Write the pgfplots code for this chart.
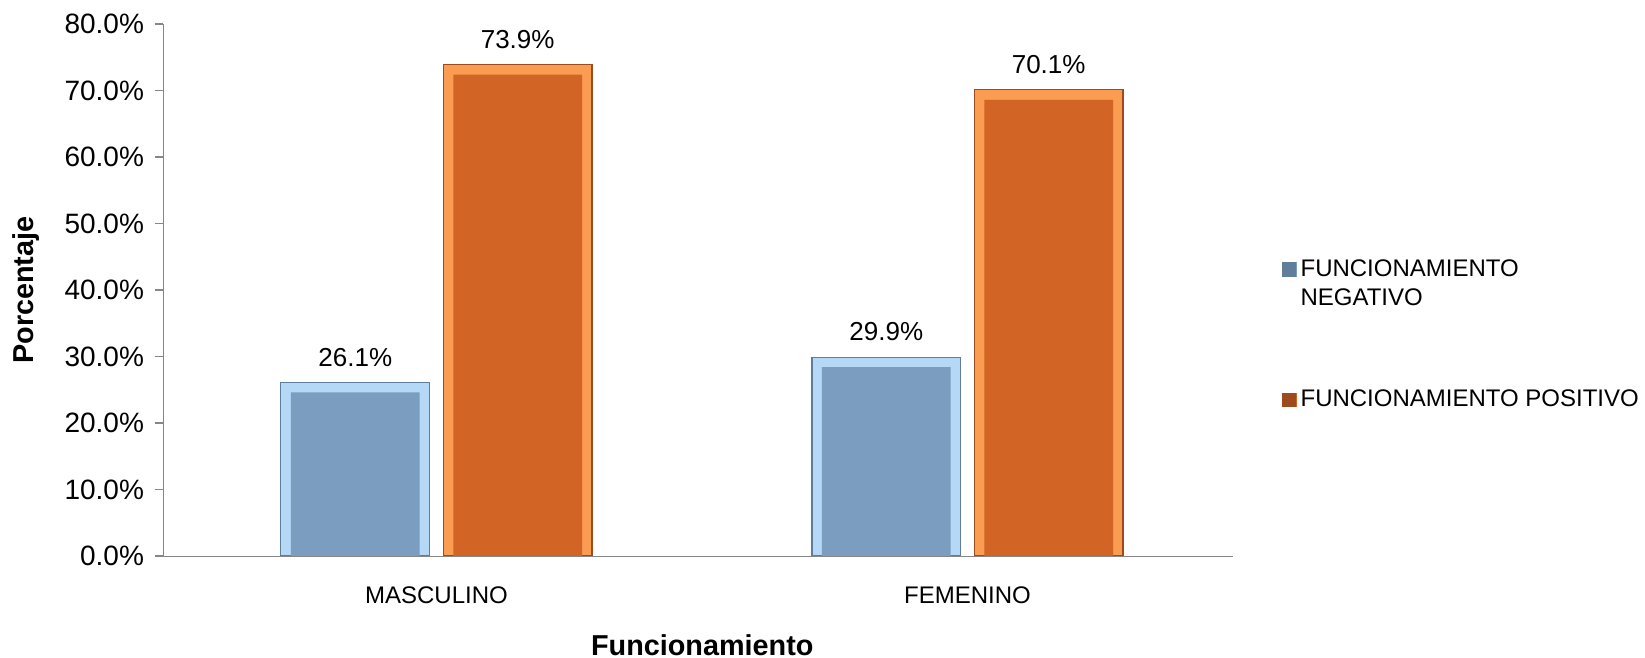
\documentclass[border=0pt]{standalone}
\usepackage{pgfplots}
\pgfplotsset{compat=1.18}
\usepackage{fontspec}
\setmainfont{Liberation Sans}

\definecolor{bluemain}{HTML}{7A9DC0}
\definecolor{bluelight}{HTML}{B4D8F6}
\definecolor{blueedge}{HTML}{5F7E9C}
\definecolor{orgmain}{HTML}{D26426}
\definecolor{orglight}{HTML}{FA9C52}
\definecolor{orgedge}{HTML}{9C4B1E}
\definecolor{axisgray}{HTML}{868686}

\pgfplotsset{
  outerbar/.style={ybar, bar width=0.28, line width=0.6pt},
  innerbar/.style={ybar, bar width=0.2426, draw=none, yshift=-5pt, forget plot,
    nodes near coords={\pgfmathprintnumber[fixed,fixed zerofill,precision=1]{\pgfplotspointmeta}\%},
    every node near coord/.append style={font=\fontsize{13}{15}\selectfont, text=black, yshift=9.5pt}},
}

\begin{document}
\begin{tikzpicture}
\begin{axis}[
  name=ax, at={(0,0)}, anchor=south west,
  width=535pt, height=266pt, scale only axis,
  xmin=-0.515, xmax=1.5, ymin=0, ymax=80,
  xtick={0,1}, xticklabels={MASCULINO,FEMENINO},
  ytick distance=10,
  axis lines=left, axis line style={draw=axisgray, -},
  xtick style={draw=none},
  ytick style={draw=axisgray, line width=0.6pt},
  major tick length=4pt, tick align=outside,
  yticklabel={\pgfmathprintnumber[fixed,fixed zerofill,precision=1]{\tick}\%},
  /pgf/number format/assume math mode=true,
  yticklabel style={font=\fontsize{14}{16}\selectfont, xshift=-2pt},
  xticklabel style={font=\fontsize{12}{14}\selectfont, yshift=-8pt},
  ylabel={\textbf{Porcentaje}},
  ylabel style={font=\fontsize{14.4}{17}\selectfont, at={(axis description cs:-0.128,0.5)}, anchor=center},
  xlabel={\textbf{Funcionamiento}},
  xlabel style={font=\fontsize{14.4}{17}\selectfont, at={(axis description cs:0.504,-0.167)}, anchor=center},
  clip mode=global,
  legend cell align=left,
  legend style={at={(1.04,0.416)}, anchor=west, draw=none, fill=none,
    font=\fontsize{12}{14.4}\selectfont, row sep=37pt,
    nodes={align=left}},
]
% outer (bevel) bars
\addplot[outerbar, bar shift=-0.153, fill=bluelight, draw=blueedge,
  legend image code/.code={\fill[bluemain] (0pt,3.9pt) rectangle (6.6pt,10.5pt);
    \draw[blueedge, line width=0.5pt] (0pt,3.9pt) rectangle (6.6pt,10.5pt);}]
  coordinates {(0,26.1) (1,29.9)};
\addlegendentry{FUNCIONAMIENTO\\NEGATIVO}
\addplot[outerbar, bar shift=0.153, fill=orglight, draw=orgedge,
  legend image code/.code={\fill[orgmain] (0pt,-3.3pt) rectangle (6.6pt,3.3pt);
    \draw[orgedge, line width=0.5pt] (0pt,-3.3pt) rectangle (6.6pt,3.3pt);}]
  coordinates {(0,73.9) (1,70.1)};
\addlegendentry{FUNCIONAMIENTO POSITIVO}
% inner faces with value labels
\addplot[innerbar, bar shift=-0.153, fill=bluemain,
  every node near coord/.append style={xshift=-40.6pt}]
  coordinates {(0,26.1) (1,29.9)};
\addplot[innerbar, bar shift=0.153, fill=orgmain,
  every node near coord/.append style={xshift=40.6pt}]
  coordinates {(0,73.9) (1,70.1)};
\end{axis}
\pgfresetboundingbox
\path (-81.5pt,-51pt) rectangle (741pt,278pt);
\end{tikzpicture}
\end{document}
